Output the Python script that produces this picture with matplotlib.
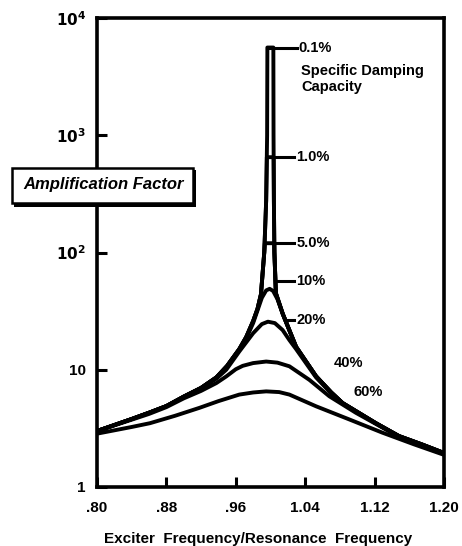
import matplotlib
matplotlib.use("Agg")
import matplotlib.pyplot as plt
from matplotlib.patches import Rectangle
from matplotlib.ticker import FixedLocator, FixedFormatter, NullLocator

plt.rcParams['font.family'] = ['Liberation Sans', 'DejaVu Sans']

# ---- data ----
x_ticks = [0.80, 0.88, 0.96, 1.04, 1.12, 1.20]
x_tick_labels = ['.80', '.88', '.96', '1.04', '1.12', '1.20']
y_ticks = [1, 10, 100, 1000, 10000]
y_tick_labels = ['1', '10', r'$\mathbf{10^2}$', r'$\mathbf{10^3}$', r'$\mathbf{10^4}$']

damping_labels = ['0.1%', '1.0%', '5.0%', '10%', '20%', '40%', '60%']

x_01 = [0.80, 0.84, 0.86, 0.88, 0.90, 0.92, 0.9376, 0.95, 0.964, 0.972, 0.98, 0.985, 0.989, 0.9928, 0.995,
        0.9961, 0.9964, 1.0033, 1.0035, 1.0039, 1.0045, 1.0062, 1.0141, 1.0295, 1.0525, 1.07, 1.0831,
        1.1215, 1.148, 1.175, 1.20]
y_01 = [3.0, 3.8, 4.3, 4.9, 5.9, 7.0, 8.6, 10.8, 15, 19, 26, 33, 44, 100, 276,
        1000, 5600, 5600, 1000, 276, 100, 45, 30, 15.7, 8.8, 6.4, 5.2,
        3.5, 2.72, 2.3, 1.95]

x_1 = [0.80, 0.84, 0.86, 0.88, 0.90, 0.92, 0.9376, 0.95, 0.964, 0.972, 0.98, 0.985, 0.989, 0.9928, 0.995,
       0.9958, 1.0036, 1.0039, 1.0045, 1.0062, 1.0141, 1.0295, 1.0525, 1.07, 1.0831,
       1.1215, 1.148, 1.175, 1.20]
y_1 = [3.0, 3.8, 4.3, 4.9, 5.9, 7.0, 8.6, 10.8, 15, 19, 26, 33, 44, 100, 276,
       650, 650, 276, 100, 45, 30, 15.7, 8.8, 6.4, 5.2,
       3.5, 2.72, 2.3, 1.95]

x_5 = [0.80, 0.84, 0.86, 0.88, 0.90, 0.92, 0.9376, 0.95, 0.964, 0.972, 0.98, 0.985, 0.989, 0.9928,
       0.9935, 1.0043, 1.0045, 1.0062, 1.0141, 1.0295, 1.0525, 1.07, 1.0831,
       1.1215, 1.148, 1.175, 1.20]
y_5 = [3.0, 3.8, 4.3, 4.9, 5.9, 7.0, 8.6, 10.8, 15, 19, 26, 33, 44, 100,
       120, 120, 100, 45, 30, 15.7, 8.8, 6.4, 5.2,
       3.5, 2.72, 2.3, 1.95]

x_10 = [0.80, 0.84, 0.86, 0.88, 0.90, 0.92, 0.9376, 0.95, 0.964, 0.972, 0.98, 0.985, 0.990, 0.995, 0.999,
        1.003, 1.008, 1.0141, 1.0295, 1.0525, 1.07, 1.0831, 1.1215, 1.148, 1.175, 1.20]
y_10 = [3.0, 3.8, 4.3, 4.9, 5.9, 7.0, 8.6, 10.7, 14.8, 18.5, 25, 32, 41, 47.5, 49,
        47, 40, 30, 15.6, 8.8, 6.4, 5.2, 3.5, 2.72, 2.3, 1.95]

x_20 = [0.80, 0.84, 0.86, 0.88, 0.90, 0.92, 0.9376, 0.949, 0.964, 0.98, 0.99, 0.997, 1.005, 1.014,
        1.0218, 1.0295, 1.0525, 1.07, 1.0831, 1.1215, 1.148, 1.20]
y_20 = [3.0, 3.8, 4.3, 4.9, 5.85, 6.9, 8.4, 10, 14.3, 20.5, 24.5, 25.7, 25, 21.8,
        17.9, 15, 8.6, 6.3, 5.15, 3.48, 2.7, 1.93]

x_40 = [0.80, 0.84, 0.86, 0.88, 0.90, 0.92, 0.9376, 0.949, 0.96, 0.968, 0.98, 0.995, 1.008, 1.0218,
        1.0448, 1.0678, 1.0985, 1.1215, 1.148, 1.20]
y_40 = [3.0, 3.75, 4.2, 4.8, 5.7, 6.6, 7.7, 8.77, 10.1, 10.8, 11.4, 11.75, 11.5, 10.7,
        8.2, 5.94, 4.29, 3.45, 2.68, 1.92]

x_60 = [0.80, 0.84, 0.861, 0.89, 0.918, 0.94, 0.964, 0.98, 0.995, 1.01, 1.0218, 1.0525, 1.0908,
        1.1288, 1.1655, 1.20]
y_60 = [2.85, 3.25, 3.5, 4.05, 4.73, 5.4, 6.14, 6.4, 6.54, 6.45, 6.14, 4.88, 3.77,
        2.91, 2.31, 1.88]

curves_x = [x_01, x_1, x_5, x_10, x_20, x_40, x_60]
curves_y = [y_01, y_1, y_5, y_10, y_20, y_40, y_60]

# ---- figure ----
fig = plt.figure(figsize=(4.62, 5.46), dpi=100)
ax = fig.add_axes([97 / 462, 1 - 487 / 546, 347 / 462, 469 / 546])

for xs, ys in zip(curves_x, curves_y):
    ax.plot(xs, ys, color='black', lw=2.8, solid_joinstyle='round', solid_capstyle='round')

ax.set_yscale('log')
ax.set_xlim(0.80, 1.20)
ax.set_ylim(1, 1e4)

for s in ax.spines.values():
    s.set_linewidth(2.6)

ax.xaxis.set_major_locator(FixedLocator(x_ticks))
ax.xaxis.set_major_formatter(FixedFormatter(x_tick_labels))
ax.yaxis.set_major_locator(FixedLocator(y_ticks))
ax.yaxis.set_major_formatter(FixedFormatter(y_tick_labels))
ax.yaxis.set_minor_locator(NullLocator())
ax.tick_params(axis='both', direction='in', length=7, width=2.2, labelsize=11)
ax.tick_params(axis='x', pad=10)
ax.tick_params(axis='y', pad=8)
for lab in ax.get_xticklabels() + ax.get_yticklabels():
    lab.set_fontweight('bold')

ax.set_xlabel('Exciter  Frequency/Resonance  Frequency', fontsize=11, fontweight='bold')
ax.xaxis.set_label_coords(0.464, -0.095)

# leader lines and labels
lead_kw = dict(color='black', lw=2.2)
ax.plot([0.9964, 1.031], [5600, 5600], **lead_kw)
ax.plot([1.0036, 1.0276], [650, 650], **lead_kw)
ax.plot([1.0043, 1.0276], [120, 120], **lead_kw)
ax.plot([1.0055, 1.0276], [57, 57], **lead_kw)
ax.plot([1.0175, 1.0276], [26.5, 26.5], **lead_kw)

tkw = dict(fontsize=10.5, fontweight='bold', va='center', ha='left')
ax.text(1.0325, 5600, damping_labels[0], **tkw)
ax.text(1.0355, 3500, 'Specific Damping', **tkw)
ax.text(1.0355, 2580, 'Capacity', **tkw)
ax.text(1.030, 650, damping_labels[1], **tkw)
ax.text(1.030, 120, damping_labels[2], **tkw)
ax.text(1.030, 57, damping_labels[3], **tkw)
ax.text(1.030, 26.5, damping_labels[4], **tkw)
ax.text(1.073, 11.5, damping_labels[5], **tkw)
ax.text(1.096, 6.5, damping_labels[6], **tkw)

# boxed y-axis title
W, H = 462, 546
shadow = Rectangle((14 / W, 1 - 207 / H), 182 / W, 37 / H, transform=fig.transFigure,
                   facecolor='black', edgecolor='black', lw=0, zorder=5)
box = Rectangle((12 / W, 1 - 203 / H), 181 / W, 35 / H, transform=fig.transFigure,
                facecolor='white', edgecolor='black', lw=1.8, zorder=6)
fig.add_artist(shadow)
fig.add_artist(box)
fig.text(104 / W, 1 - 185 / H, 'Amplification Factor', fontsize=12, fontweight='bold',
         fontstyle='italic', ha='center', va='center', zorder=7)

fig.savefig('out.png', dpi=100)
